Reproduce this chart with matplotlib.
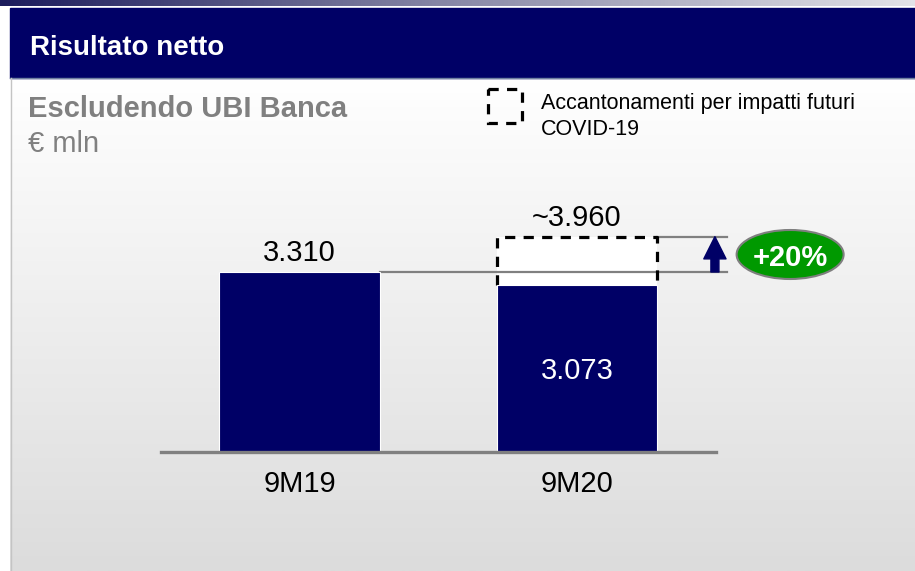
import numpy as np
import matplotlib.pyplot as plt
from matplotlib.patches import Rectangle, Ellipse
from matplotlib.colors import LinearSegmentedColormap

# Dati (€ mln)
periods = ['9M19', '9M20']
net_result = [3310, 3073]
value_labels = ['3.310', '3.073']
adjusted_9m20 = 3960          # incl. accantonamenti COVID-19
adjusted_label = '~3.960'
growth_label = '+20%'

NAVY = '#000066'
GRAY = '#808080'
W, H = 915, 571

plt.rcParams['font.family'] = ['Liberation Sans', 'DejaVu Sans']

fig = plt.figure(figsize=(W / 100, H / 100), dpi=100)

# --- sfondo in coordinate pixel ---
bg = fig.add_axes([0, 0, 1, 1])
strip_cmap = LinearSegmentedColormap.from_list('strip', ['#1c1c5c', '#8a8aa8', '#e2e2e8'])
bg.imshow(np.linspace(0, 1, 256).reshape(1, -1), cmap=strip_cmap,
          extent=(0, W, 6, 0), aspect='auto')
panel_cmap = LinearSegmentedColormap.from_list('panel', ['#ffffff', '#dcdcdc'])
bg.imshow(np.linspace(0, 1, 256).reshape(-1, 1), cmap=panel_cmap,
          extent=(10, W, H, 78), aspect='auto')
bg.add_patch(Rectangle((10, 8), W - 10, 70, color=NAVY))
bg.plot([10, W], [78, 78], color='#6f7fa0', lw=1)
bg.plot([10.5, 10.5], [78, H], color='#c4c4c4', lw=1)
bg.set_xlim(0, W)
bg.set_ylim(H, 0)
bg.axis('off')

bg.text(30, 55, 'Risultato netto', color='white', fontsize=20,
        fontweight='bold', va='baseline')
bg.text(28, 117, 'Escludendo UBI Banca', color=GRAY, fontsize=21,
        fontweight='bold', va='baseline')
bg.text(28, 152, '€ mln', color=GRAY, fontsize=21, va='baseline')

# legenda
bg.add_patch(Rectangle((488, 89), 34, 34, fill=False, ec='black', lw=2.3,
                       ls=(0, (3.2, 2.6))))
bg.text(541, 109, 'Accantonamenti per impatti futuri', fontsize=15.5, va='baseline')
bg.text(541, 135, 'COVID-19', fontsize=15.5, va='baseline')

# --- grafico ---
ax = fig.add_axes([0, 0, 1, 1])
ax.patch.set_alpha(0)
dx = 277.5                    # px tra le barre
scale = 180 / 3310            # px per € mln
ax.set_xlim(-299.5 / dx, (W - 299.5) / dx)
ax.set_ylim(-(H - 452) / scale, 452 / scale)
ax.axis('off')

x = np.arange(len(periods))
bw = 0.58

# box tratteggiato (accantonamenti)
ax.bar(x[1], adjusted_9m20 - net_result[1], bottom=net_result[1], width=bw,
       color='white', zorder=2)
ax.plot([x[1] - bw / 2, x[1] - bw / 2, x[1] + bw / 2, x[1] + bw / 2],
        [net_result[1], adjusted_9m20, adjusted_9m20, net_result[1]],
        color='black', lw=2.3, ls=(0, (3.2, 2.6)), zorder=3)

ax.bar(x, net_result, width=bw, color=NAVY, edgecolor='white', lw=0.8, zorder=4)
ax.plot([-0.5, 1.5], [0, 0], color=GRAY, lw=2.4, zorder=5)

# linee di riferimento
ax.plot([x[0] + bw / 2, 1.54], [net_result[0]] * 2, color=GRAY, lw=1.6, zorder=2.5)
ax.plot([x[1] + bw / 2, 1.54], [adjusted_9m20] * 2, color=GRAY, lw=1.6, zorder=2.5)

# freccia
ax.annotate('', xy=(1.497, adjusted_9m20), xytext=(1.497, net_result[0]),
            arrowprops=dict(arrowstyle='simple,head_width=1.0,head_length=1.0,tail_width=0.36',
                            color=NAVY, shrinkA=0, shrinkB=0, mutation_scale=16),
            zorder=6)

# ellisse crescita
ey = (452 - 254.5) / scale
ax.add_patch(Ellipse((1.768, ey), 107 / dx, 49 / scale, fc='#009900',
                     ec='#7f7f7f', lw=1.5, zorder=6))
ax.text(1.768, ey, growth_label, color='white', fontsize=21, fontweight='bold',
        ha='center', va='center_baseline', zorder=7)

# etichette
ax.annotate(value_labels[0], (x[0], net_result[0]), xytext=(0, 8),
            textcoords='offset points', ha='center', va='baseline', fontsize=21)
ax.annotate(adjusted_label, (x[1], adjusted_9m20), xytext=(0, 8),
            textcoords='offset points', ha='center', va='baseline', fontsize=21)
ax.text(x[1], net_result[1] / 2, value_labels[1], color='white', fontsize=21,
        ha='center', va='center_baseline', zorder=7)
for xi, p in zip(x, periods):
    ax.annotate(p, (xi, 0), xytext=(0, -29), textcoords='offset points',
                ha='center', va='baseline', fontsize=21)

fig.savefig('out.png', dpi=100)
